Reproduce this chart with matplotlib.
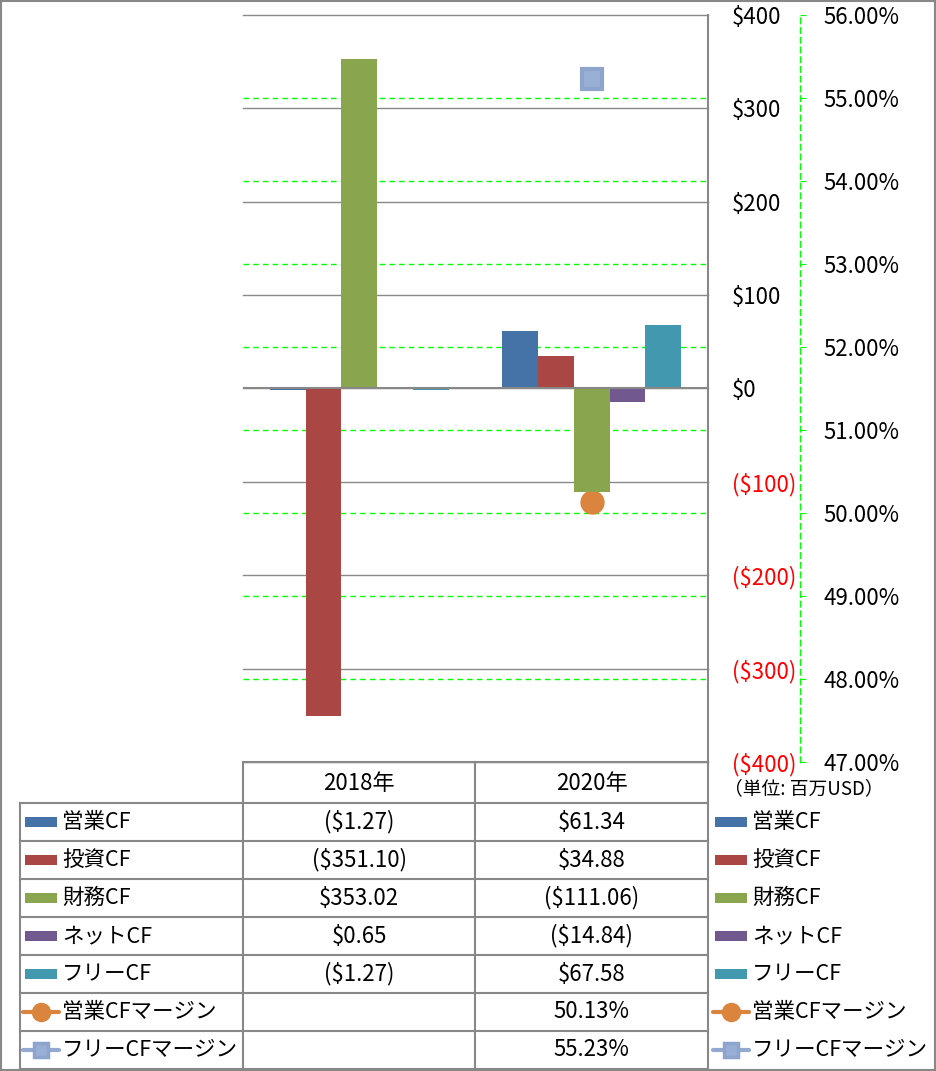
import numpy as np
import matplotlib
matplotlib.use('Agg')
import matplotlib.pyplot as plt
from matplotlib.patches import Rectangle

plt.rcParams['font.family'] = ['Noto Sans CJK JP', 'DejaVu Sans']

# データ (単位: 百万USD)
years = ['2018年', '2020年']
series = ['営業CF', '投資CF', '財務CF', 'ネットCF', 'フリーCF']
cf_2018 = [-1.27, -351.10, 353.02, 0.65, -1.27]
cf_2020 = [61.34, 34.88, -111.06, -14.84, 67.58]
margin_names = ['営業CFマージン', 'フリーCFマージン']
op_margin = [np.nan, 50.13]
free_margin = [np.nan, 55.23]

usd_ticks = [-400, -300, -200, -100, 0, 100, 200, 300, 400]
pct_ticks = [47, 48, 49, 50, 51, 52, 53, 54, 55, 56]

bar_colors = ['#4572A7', '#AA4643', '#89A54E', '#71588F', '#4198AF']
op_color = '#DB843D'
free_color = '#93A9D1'
grid_gray = '#888888'
green = '#00FF00'

W, H = 936, 1071
fig = plt.figure(figsize=(W / 100, H / 100), dpi=100)


def px_rect(x0, y0, x1, y1):
    return [x0 / W, 1 - y1 / H, (x1 - x0) / W, (y1 - y0) / H]


def money(v):
    return f'(${abs(v):,.2f})' if v < 0 else f'${v:,.2f}'


def money_tick(v):
    return f'(${abs(v):.0f})' if v < 0 else f'${v:.0f}'


# 右側の%軸 (グリッドは棒の下)
ax_pct = fig.add_axes(px_rect(243, 15, 708, 762))
ax_bar = ax_pct.twinx()

x = np.arange(len(years))
ax_pct.set_xlim(-0.5, len(years) - 0.5)
ax_pct.set_xticks([])

ax_pct.set_ylim(47, 56)
ax_pct.set_yticks(pct_ticks, [f'{v:.2f}%' for v in pct_ticks])
ax_pct.yaxis.tick_right()
for v in pct_ticks[1:-1]:
    ax_pct.axhline(v, color=green, linestyle=(0, (4, 3)), lw=1, zorder=0.5)
ax_pct.tick_params(axis='y', direction='out', length=4, color=green,
                   pad=13, labelsize=16)
for s in ['left', 'top', 'bottom']:
    ax_pct.spines[s].set_visible(False)
ax_pct.spines['right'].set_position(('outward', 66))
ax_pct.spines['right'].set_color(green)
ax_pct.spines['right'].set_linestyle((0, (4, 3)))
ax_pct.spines['right'].set_linewidth(1)

ax_pct.plot(x, op_margin, color=op_color, lw=3, marker='o', ms=16.5,
            mfc=op_color, mec=op_color)
ax_pct.plot(x, free_margin, color=free_color, lw=3, marker='s', ms=14,
            mfc='#9AAFD6', mec='#8DA4CC', mew=3, solid_joinstyle='round')

# 棒グラフ
width = 1 / (len(series) + 1.5)
for i, name in enumerate(series):
    vals = [cf_2018[i], cf_2020[i]]
    ax_bar.bar(x + (i - 2) * width, vals, width, color=bar_colors[i], label=name)

ax_bar.set_ylim(-400, 400)
ax_bar.set_yticks(usd_ticks, [money_tick(v) for v in usd_ticks])
ax_bar.set_axisbelow(True)
ax_bar.yaxis.grid(True, color=grid_gray, lw=1)
for gl in ax_bar.get_ygridlines():
    gl.set_clip_on(False)
ax_bar.axhline(0, color=grid_gray, lw=1.5, zorder=3)
ax_bar.tick_params(axis='y', length=0, pad=17, labelsize=16)
for lab, v in zip(ax_bar.get_yticklabels(), usd_ticks):
    lab.set_color('#FF0000' if v < 0 else 'black')
for s in ['left', 'top', 'bottom']:
    ax_bar.spines[s].set_visible(False)
ax_bar.spines['right'].set_color(grid_gray)
ax_bar.spines['right'].set_linewidth(1.5)

# データテーブルと凡例
ov = fig.add_axes([0, 0, 1, 1])
ov.set_xlim(0, W)
ov.set_ylim(H, 0)
ov.axis('off')
ov.patch.set_visible(False)

row_edges = [803, 841, 879, 917, 955, 993, 1031, 1069]
col_x = [20, 243, 475, 708]
lc = dict(color=grid_gray, lw=1.5)

ov.plot([243, 708], [762, 762], **lc)
for y in row_edges:
    ov.plot([20, 708], [y, y], **lc)
ov.plot([20, 20], [803, 1069], **lc)
for cx in col_x[1:]:
    ov.plot([cx, cx], [762, 1069], **lc)

for j, yr in enumerate(years):
    ov.text((col_x[j + 1] + col_x[j + 2]) / 2, 783, yr, ha='center',
            va='center', fontsize=16)

rows = [(series[i], [cf_2018[i], cf_2020[i]], 'bar', bar_colors[i]) for i in range(len(series))]
rows.append((margin_names[0], op_margin, 'o', op_color))
rows.append((margin_names[1], free_margin, 's', free_color))

for r, (name, vals, kind, col) in enumerate(rows):
    yc = (row_edges[r] + row_edges[r + 1]) / 2
    for j, v in enumerate(vals):
        if np.isnan(v):
            continue
        txt = money(v) if kind == 'bar' else f'{v:.2f}%'
        ov.text((col_x[j + 1] + col_x[j + 2]) / 2, yc, txt, ha='center',
                va='center', fontsize=16)
    for kx in (25, 715):
        if kind == 'bar':
            ov.add_patch(Rectangle((kx, yc - 5), 32, 10, color=col, lw=0))
        else:
            ov.plot([kx - 2, kx + 34], [yc, yc], color=col, lw=3,
                    solid_capstyle='round')
            if kind == 'o':
                ov.plot(kx + 16, yc, marker='o', ms=13, color=col)
            else:
                ov.plot(kx + 16, yc, marker='s', ms=10.5, mfc='#9AAFD6',
                        mec='#8DA4CC', mew=2.5)
        ov.text(kx + 37, yc, name, ha='left', va='center', fontsize=15.5)

ov.text(724, 789, '（単位: 百万USD）', ha='left', va='center', fontsize=13.5)

ov.add_patch(Rectangle((0.75, 0.75), W - 1.5, H - 1.5, fill=False,
                       edgecolor=grid_gray, lw=1.5))

fig.savefig('out.png', dpi=100)
